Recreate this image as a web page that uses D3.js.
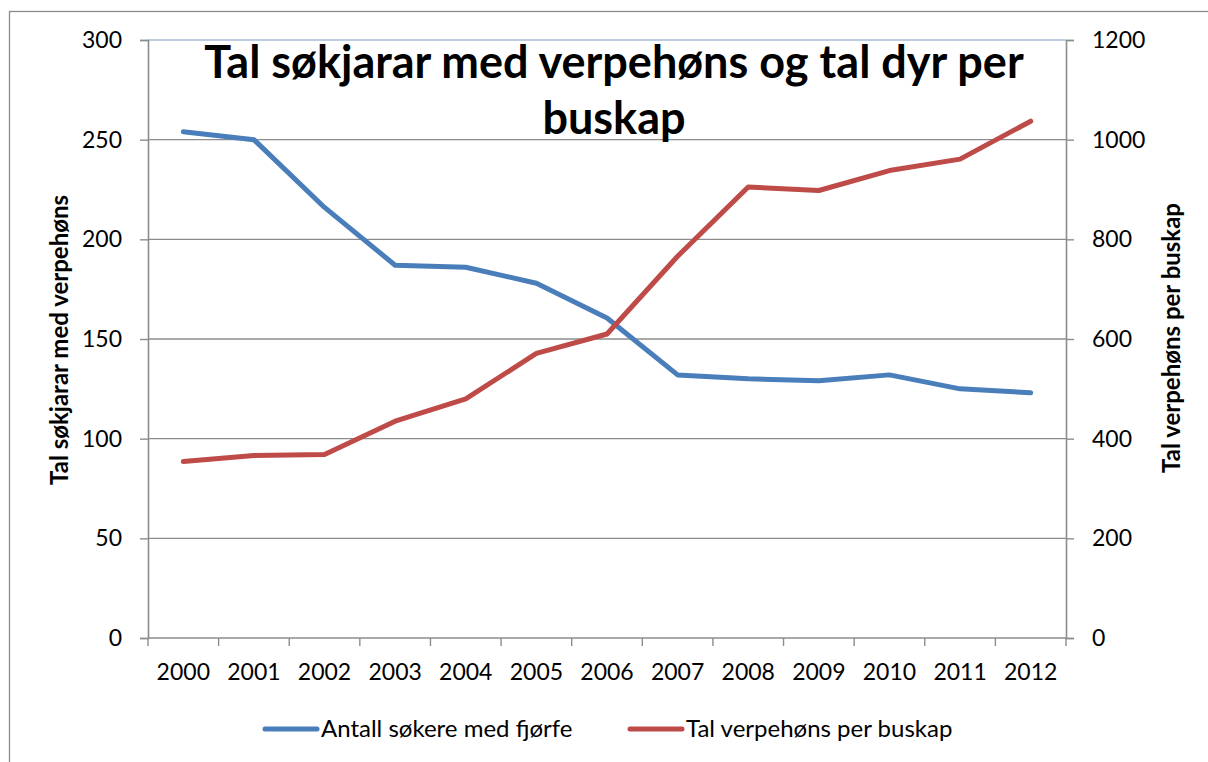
<!DOCTYPE html>
<html>
<head>
<meta charset="utf-8">
<script src="https://cdn.jsdelivr.net/npm/d3@7"></script>
<style>
  body { margin: 0; background: #fff; }
  text { font-family: Lato, "Open Sans", sans-serif; fill: #000; }
</style>
</head>
<body>
<div id="chart"></div>
<script>
const years = ['2000','2001','2002','2003','2004','2005','2006','2007','2008','2009','2010','2011','2012']
const sokere = [254, 250, 216, 187, 186, 178, 160.5, 132, 130, 129, 132, 125, 123]
const perBuskap = [354, 366, 368, 435, 480, 571, 610, 766, 905, 898, 938, 961, 1037]
const leftTicks = [0, 50, 100, 150, 200, 250, 300]
const rightTicks = [0, 200, 400, 600, 800, 1000, 1200]

const dimensions = {
  width: 1208,
  height: 762,
  margin: { left: 148, right: 142, top: 40, bottom: 124 }
}
dimensions.ctrWidth = dimensions.width - dimensions.margin.left - dimensions.margin.right
dimensions.ctrHeight = dimensions.height - dimensions.margin.top - dimensions.margin.bottom

const svg = d3.select('#chart')
  .append('svg')
  .attr('width', dimensions.width)
  .attr('height', dimensions.height)

// outer chart frame
svg.append('rect')
  .attr('x', 9.5).attr('y', 11.5)
  .attr('width', 1300).attr('height', 900)
  .attr('fill', 'none')
  .attr('stroke', '#8c8c8c')
  .attr('stroke-width', 1.3)

const ctr = svg.append('g')
  .attr('transform', `translate(${dimensions.margin.left},${dimensions.margin.top})`)

const xScale = d3.scaleBand().domain(years).range([0, dimensions.ctrWidth])
const yLeft = d3.scaleLinear().domain([0, 300]).range([dimensions.ctrHeight, 0])
const yRight = d3.scaleLinear().domain([0, 1200]).range([dimensions.ctrHeight, 0])

// gridlines
ctr.append('g')
  .selectAll('line')
  .data(leftTicks.slice(1, -1))
  .join('line')
  .attr('x1', 0).attr('x2', dimensions.ctrWidth)
  .attr('y1', d => yLeft(d)).attr('y2', d => yLeft(d))
  .attr('stroke', '#8c8c8c').attr('stroke-width', 1.4)

// top edge of plot area
ctr.append('line')
  .attr('x1', 0).attr('x2', dimensions.ctrWidth)
  .attr('y1', yLeft(300)).attr('y2', yLeft(300))
  .attr('stroke', '#7f9bc6').attr('stroke-width', 1.2)

// axes
const leftAxis = d3.axisLeft(yLeft).tickValues(leftTicks).tickSize(8).tickPadding(18)
const rightAxis = d3.axisRight(yRight).tickValues(rightTicks).tickFormat(d3.format('d')).tickSize(8).tickPadding(18)
const bottomAxis = d3.axisBottom(xScale).tickSize(0).tickPadding(26)

const styleAxis = g => {
  g.select('.domain').attr('stroke', '#8c8c8c').attr('stroke-width', 1.6)
  g.selectAll('.tick line').attr('stroke', '#8c8c8c').attr('stroke-width', 1.4)
  g.selectAll('.tick text').attr('font-size', 23).attr('font-family', 'Lato, sans-serif').attr('fill', '#000')
}

ctr.append('g').call(leftAxis).call(styleAxis)
ctr.append('g').attr('transform', `translate(${dimensions.ctrWidth},0)`).call(rightAxis).call(styleAxis)
const xg = ctr.append('g').attr('transform', `translate(0,${dimensions.ctrHeight})`).call(bottomAxis).call(styleAxis)
xg.select('.domain').attr('d', `M0,0H${dimensions.ctrWidth}`)

// x tick marks at band boundaries
xg.append('g')
  .selectAll('line')
  .data(years.map((d, i) => i).concat([years.length]))
  .join('line')
  .attr('x1', i => i * xScale.step()).attr('x2', i => i * xScale.step())
  .attr('y1', 0).attr('y2', 8)
  .attr('stroke', '#8c8c8c').attr('stroke-width', 1.4)

// lines
const xAccessor = (d, i) => xScale(years[i]) + xScale.bandwidth() / 2

const blueLine = d3.line().x(xAccessor).y(d => yLeft(d))
const redLine = d3.line().x(xAccessor).y(d => yRight(d))

ctr.append('path')
  .datum(sokere)
  .attr('d', blueLine)
  .attr('fill', 'none')
  .attr('stroke', '#4a7ebb')
  .attr('stroke-width', 5)
  .attr('stroke-linecap', 'round')
  .attr('stroke-linejoin', 'round')

ctr.append('path')
  .datum(perBuskap)
  .attr('d', redLine)
  .attr('fill', 'none')
  .attr('stroke', '#be4b48')
  .attr('stroke-width', 5)
  .attr('stroke-linecap', 'round')
  .attr('stroke-linejoin', 'round')

// title
const title = svg.append('text')
  .attr('text-anchor', 'middle')
  .attr('font-size', 45)
  .attr('font-weight', 'bold')
title.append('tspan').attr('x', 614).attr('y', 78).text('Tal søkjarar med verpehøns og tal dyr per')
title.append('tspan').attr('x', 614).attr('y', 134).text('buskap')

// axis titles
svg.append('text')
  .attr('transform', 'translate(68,340) rotate(-90)')
  .attr('text-anchor', 'middle')
  .attr('font-size', 24)
  .attr('font-weight', 'bold')
  .text('Tal søkjarar med verpehøns')

svg.append('text')
  .attr('transform', 'translate(1180,338) rotate(-90)')
  .attr('text-anchor', 'middle')
  .attr('font-size', 24)
  .attr('font-weight', 'bold')
  .text('Tal verpehøns per buskap')

// legend
const legendItems = [
  { label: 'Antall søkere med fjørfe', color: '#4a7ebb', x: 265 },
  { label: 'Tal verpehøns per buskap', color: '#be4b48', x: 630 }
]
const legend = svg.append('g')
legend.selectAll('line')
  .data(legendItems)
  .join('line')
  .attr('x1', d => d.x).attr('x2', d => d.x + 52)
  .attr('y1', 729).attr('y2', 729)
  .attr('stroke', d => d.color)
  .attr('stroke-width', 5)
  .attr('stroke-linecap', 'round')
legend.selectAll('text')
  .data(legendItems)
  .join('text')
  .attr('x', d => d.x + 56)
  .attr('y', 737)
  .attr('font-size', 24)
  .text(d => d.label)
</script>
</body>
</html>
